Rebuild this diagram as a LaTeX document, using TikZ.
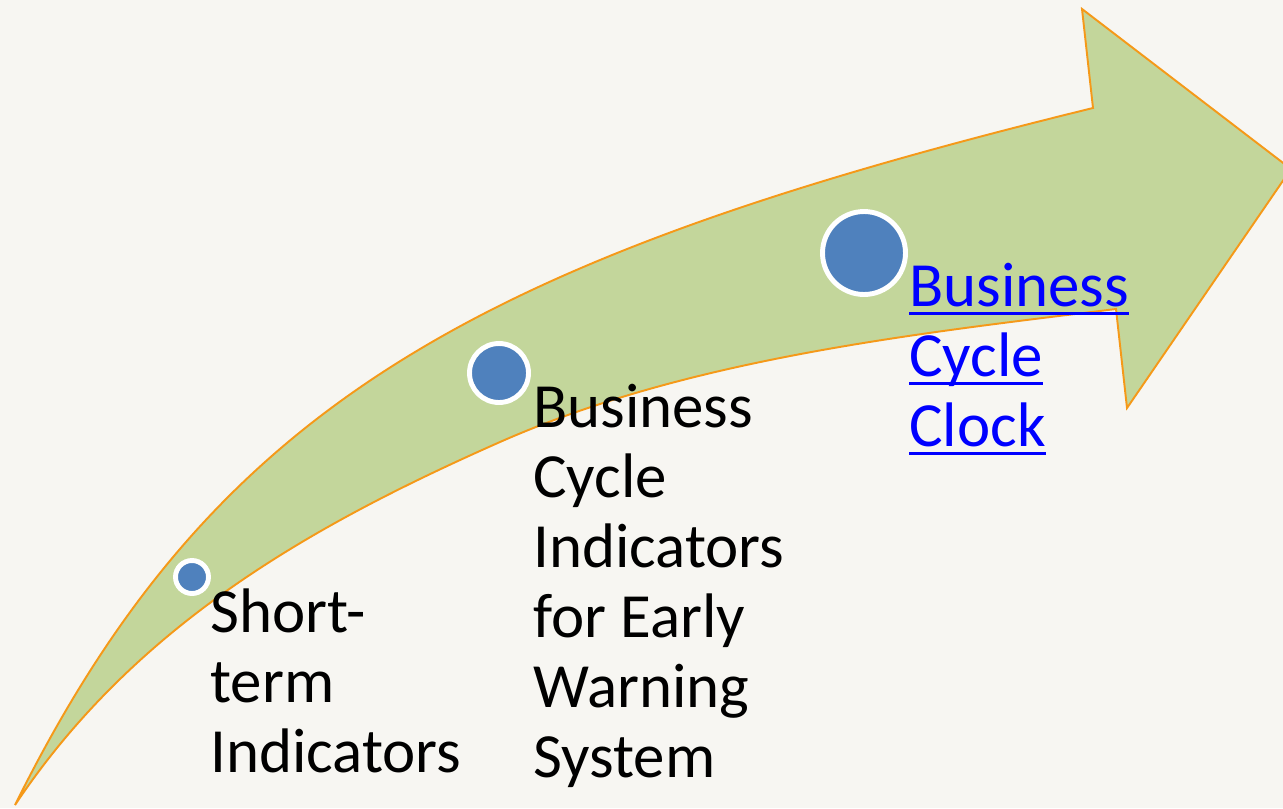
\documentclass[tikz,border=0pt]{standalone}
\usepackage{fontspec}
\setmainfont{Carlito}
\definecolor{bgc}{RGB}{247,246,242}
\definecolor{arrowfill}{RGB}{195,214,155}
\definecolor{arroworange}{RGB}{245,153,25}
\definecolor{dotblue}{RGB}{79,129,189}
\definecolor{linkblue}{RGB}{0,0,255}
\newcommand\myul[1]{\setbox0\hbox{#1}\rlap{\rule[-5.2pt]{\wd0}{1.8pt}}\box0}
\tikzset{
  bandarrow/.style={fill=arrowfill, draw=arroworange, line width=1.1pt, line join=miter},
  dotring/.style={circle, fill=dotblue, draw=white, line width=2.8pt, inner sep=0pt},
  label/.style={anchor=base west, inner sep=0pt, align=left, font=\fontsize{35.8pt}{39.8pt}\selectfont},
}
\begin{document}
\begin{tikzpicture}[x=0.02cm,y=-0.02cm]
\fill[bgc] (0,0) rectangle (1283,808);
\path[use as bounding box] (0,0) rectangle (1283,808);
\begin{scope}
\clip (0,0) rectangle (1283,808);
\draw[bandarrow] (15,805) .. controls (213,406) and (473,260) .. (1093,108)
  -- (1082,9) -- (1291,169) -- (1127,408) -- (1116,309)
  .. controls (912,334) and (688,359) .. (500,442)
  .. controls (317,523) and (137,622) .. (15,805) -- cycle;
\end{scope}
\node[dotring, minimum size=0.66cm] (d1) at (192,577) {};
\node[dotring, minimum size=1.18cm] (d2) at (499,373) {};
\node[dotring, minimum size=1.66cm] (d3) at (864,253) {};
\node[label] (t1) at (210,772) {Short-\\term\\Indicators};
\node[label] (t2) at (533,777) {Business\\Cycle\\Indicators\\for Early\\Warning\\System};
\node[label, text=linkblue] (t3) at (909,446) {\myul{Business}\\\myul{Cycle}\\\myul{Clock}};
\end{tikzpicture}
\end{document}
